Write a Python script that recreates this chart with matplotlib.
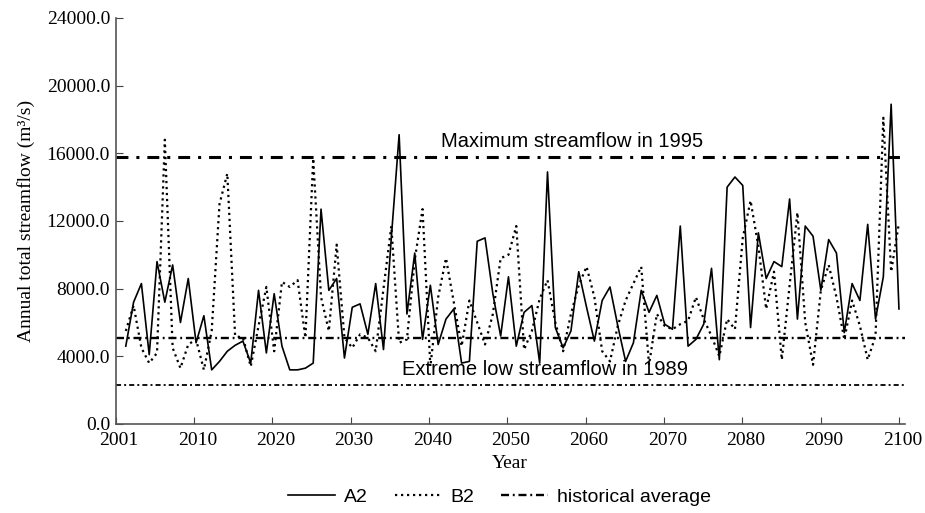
import numpy as np
import matplotlib
matplotlib.use("Agg")
import matplotlib.pyplot as plt
import matplotlib.transforms as mtransforms

# Annual total streamflow (m3/s)
years = list(range(2001, 2101))

a2 = [
    # 2001-2010
    4600, 7200, 8300, 4100, 9600, 7200, 9400, 6000, 8600, 4800,
    # 2011-2020
    6400, 3200, 3700, 4300, 4650, 4900, 3600, 7900, 4200, 7700,
    # 2021-2030
    4600, 3200, 3200, 3300, 3600, 12700, 7900, 8600, 3900, 6900,
    # 2031-2040
    7100, 5300, 8300, 4400, 11000, 17100, 6500, 10100, 5000, 8200,
    # 2041-2050
    4700, 6200, 6800, 3600, 3700, 10800, 11000, 7700, 5200, 8700,
    # 2051-2060
    4600, 6600, 7000, 3600, 14900, 5700, 4500, 5500, 9000, 6900,
    # 2061-2070
    4900, 7300, 8100, 5800, 3700, 4800, 7900, 6600, 7600, 5900,
    # 2071-2080
    5600, 11700, 4600, 5000, 5900, 9200, 3800, 14000, 14600, 14100,
    # 2081-2090
    5700, 11300, 8600, 9600, 9300, 13300, 6200, 11700, 11100, 7900,
    # 2091-2100
    10900, 10100, 5400, 8300, 7300, 11800, 6200, 8700, 18900, 6800,
]

b2 = [
    # 2001-2010
    5500, 7000, 4500, 3600, 4200, 16800, 4500, 3300, 4700, 5000,
    # 2011-2020
    3200, 5500, 13000, 14800, 5200, 5100, 3400, 5800, 8100, 4300,
    # 2021-2030
    8400, 8100, 8500, 5100, 15700, 7500, 5500, 10600, 5100, 4500,
    # 2031-2040
    5300, 5100, 4300, 8000, 11700, 4800, 5000, 9700, 12700, 3400,
    # 2041-2050
    7500, 9800, 7200, 4600, 7300, 6000, 4700, 6500, 9800, 10000,
    # 2051-2060
    11700, 4400, 5500, 7400, 8500, 6000, 4300, 6500, 8200, 9300,
    # 2061-2070
    7500, 4300, 3700, 5800, 7300, 8300, 9300, 3500, 6500, 5800,
    # 2071-2080
    5600, 5900, 6100, 7500, 6200, 5200, 4000, 6200, 5600, 11000,
    # 2081-2090
    13200, 10500, 6800, 9000, 3800, 8200, 12500, 6000, 3500, 7900,
    # 2091-2100
    9400, 7500, 5000, 7300, 5800, 3800, 5200, 18100, 9000, 11900,
]

max_flow = 15800      # maximum streamflow in 1995
hist_avg = 5100       # historical average
low_flow = 2300       # extreme low streamflow in 1989

tick_labels = ["2001", "2010", "2020", "2030", "2040", "2050",
               "2060", "2070", "2080", "2090", "2100"]

serif = "Liberation Serif"
sans = "Liberation Sans"

fig = plt.figure(figsize=(9.25, 5.13), dpi=100)
ax = fig.add_axes([0.125, 0.1735, 0.853, 0.7915])

ax.plot(years, a2, color="black", lw=1.2, label="A2")
ax.plot(years, b2, color="black", lw=1.6, linestyle=(0, (1, 1.7)), label="B2")

ax.axhline(max_flow, color="black", lw=2.2, linestyle=(0, (3.9, 2.6, 1.0, 2.6)))
ax.axhline(hist_avg, color="black", lw=1.7, linestyle=(0, (3.4, 1.6, 0.8, 1.6)),
           label="historical average")
ax.axhline(low_flow, color="black", lw=1.3, linestyle=(0, (2.8, 1.7, 1.1, 1.7)))

ax.text(2058.1, 16400, "Maximum streamflow in 1995", ha="center", va="baseline",
        fontsize=14.5, family=sans)
ax.text(2054.7, 2900, "Extreme low streamflow in 1989", ha="center", va="baseline",
        fontsize=14.5, family=sans)

xmin, xmax = 1999.7, 2100.73
ax.set_xlim(xmin, xmax)
ax.set_ylim(0, 24000)
ax.set_xticks(np.linspace(xmin, 2100, 11))
ax.set_xticklabels(tick_labels)
ax.set_yticks(np.arange(0, 24001, 4000))
ax.set_yticklabels([f"{v:.1f}" for v in np.arange(0, 24001, 4000)])

for lab in ax.get_xticklabels() + ax.get_yticklabels():
    lab.set_family(serif)
    lab.set_fontsize(14)

ax.tick_params(direction="in", length=5, width=0.8, color="#444444", pad=4)
ax.tick_params(axis="x", pad=6)

# x labels sit a few pixels right of their ticks in the original
shift = mtransforms.ScaledTranslation(3.5 / 100, 0, fig.dpi_scale_trans)
for lab in ax.get_xticklabels():
    lab.set_transform(lab.get_transform() + shift)

ax.spines["top"].set_visible(False)
ax.spines["right"].set_visible(False)
for s in ("left", "bottom"):
    ax.spines[s].set_color("#555555")
    ax.spines[s].set_linewidth(1.2)

ax.set_xlabel("Year", family=serif, fontsize=14, labelpad=4)
ax.set_ylabel("Annual total streamflow (m\u00b3/s)", family=serif, fontsize=14, labelpad=8)

fig.legend(loc="center", bbox_to_anchor=(0.54, 0.031), ncol=3, frameon=False,
           prop={"family": sans, "size": 14}, handlelength=2.4,
           handletextpad=0.45, columnspacing=1.4)

fig.savefig("out.png", dpi=100)
